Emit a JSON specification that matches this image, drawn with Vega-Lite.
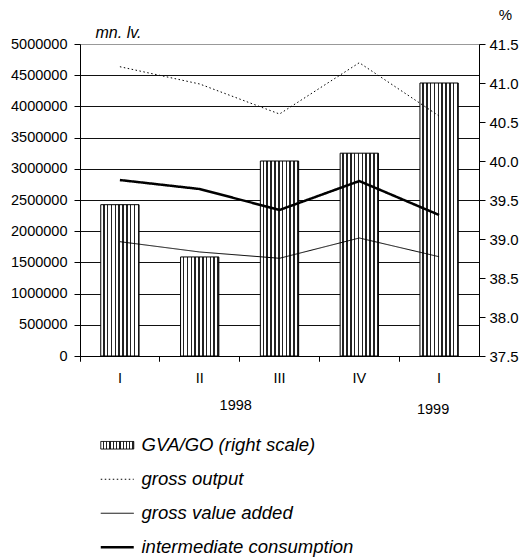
{
  "$schema": "https://vega.github.io/schema/vega-lite/v6.json",
  "width": 399,
  "height": 312,
  "autosize": {"type": "none"},
  "padding": {"left": 80, "top": 44, "right": 44, "bottom": 202},
  "config": {
    "font": "Liberation Sans",
    "view": {"stroke": "#999", "strokeWidth": 1},
    "axis": {"labelColor": "black", "tickColor": "black", "domainColor": "black", "titleColor": "black", "domainWidth": 1, "tickWidth": 1}
  },
  "datasets": {
    "quarters": [
      {"quarter": "I 1998", "gva_go": 39.44},
      {"quarter": "II 1998", "gva_go": 38.77},
      {"quarter": "III 1998", "gva_go": 40.0},
      {"quarter": "IV 1998", "gva_go": 40.1},
      {"quarter": "I 1999", "gva_go": 41.0}
    ],
    "lines": [
      {"quarter": "I 1998", "series": "gross output", "value": 4636000},
      {"quarter": "II 1998", "series": "gross output", "value": 4359000},
      {"quarter": "III 1998", "series": "gross output", "value": 3878000},
      {"quarter": "IV 1998", "series": "gross output", "value": 4700000},
      {"quarter": "I 1999", "series": "gross output", "value": 3846000},
      {"quarter": "I 1998", "series": "gross value added", "value": 1832000},
      {"quarter": "II 1998", "series": "gross value added", "value": 1667000},
      {"quarter": "III 1998", "series": "gross value added", "value": 1566000},
      {"quarter": "IV 1998", "series": "gross value added", "value": 1891000},
      {"quarter": "I 1999", "series": "gross value added", "value": 1591000},
      {"quarter": "I 1998", "series": "intermediate consumption", "value": 2820000},
      {"quarter": "II 1998", "series": "intermediate consumption", "value": 2676000},
      {"quarter": "III 1998", "series": "intermediate consumption", "value": 2340000},
      {"quarter": "IV 1998", "series": "intermediate consumption", "value": 2804000},
      {"quarter": "I 1999", "series": "intermediate consumption", "value": 2260000}
    ]
  },
  "layer": [
    {
      "data": {"name": "quarters"},
      "mark": {
        "type": "bar",
        "width": {"band": 0.48},
        "stroke": "black",
        "strokeWidth": 1,
        "fill": {
          "gradient": "linear", "x1": 0, "y1": 0, "x2": 1, "y2": 0,
          "stops": [
            {"offset": 0, "color": "white"}, {"offset": 0.06, "color": "white"}, {"offset": 0.06, "color": "#222"}, {"offset": 0.1, "color": "#222"},
            {"offset": 0.1, "color": "white"}, {"offset": 0.16, "color": "white"}, {"offset": 0.16, "color": "#222"}, {"offset": 0.2, "color": "#222"},
            {"offset": 0.2, "color": "white"}, {"offset": 0.26, "color": "white"}, {"offset": 0.26, "color": "#222"}, {"offset": 0.3, "color": "#222"},
            {"offset": 0.3, "color": "white"}, {"offset": 0.36, "color": "white"}, {"offset": 0.36, "color": "#222"}, {"offset": 0.4, "color": "#222"},
            {"offset": 0.4, "color": "white"}, {"offset": 0.46, "color": "white"}, {"offset": 0.46, "color": "#222"}, {"offset": 0.5, "color": "#222"},
            {"offset": 0.5, "color": "white"}, {"offset": 0.56, "color": "white"}, {"offset": 0.56, "color": "#222"}, {"offset": 0.6, "color": "#222"},
            {"offset": 0.6, "color": "white"}, {"offset": 0.66, "color": "white"}, {"offset": 0.66, "color": "#222"}, {"offset": 0.7, "color": "#222"},
            {"offset": 0.7, "color": "white"}, {"offset": 0.76, "color": "white"}, {"offset": 0.76, "color": "#222"}, {"offset": 0.8, "color": "#222"},
            {"offset": 0.8, "color": "white"}, {"offset": 0.86, "color": "white"}, {"offset": 0.86, "color": "#222"}, {"offset": 0.9, "color": "#222"},
            {"offset": 0.9, "color": "white"}, {"offset": 0.96, "color": "white"}, {"offset": 0.96, "color": "#222"}, {"offset": 1, "color": "#222"}
          ]
        }
      },
      "encoding": {
        "x": {
          "field": "quarter", "type": "nominal",
          "sort": ["I 1998", "II 1998", "III 1998", "IV 1998", "I 1999"],
          "scale": {"paddingInner": 0, "paddingOuter": 0},
          "axis": {
            "orient": "bottom",
            "title": null, "labelAngle": 0,
            "labelExpr": "datum.value == 'I 1998' || datum.value == 'I 1999' ? 'I' : datum.value == 'II 1998' ? 'II' : datum.value == 'III 1998' ? 'III' : datum.value == 'IV 1998' ? 'IV' : ''",
            "ticks": true, "domain": true,
            "bandPosition": 0,
            "tickSize": 5, "tickColor": "black", "tickWidth": 1, "tickOpacity": 1,
            "labelPadding": 10.5, "labelFontSize": 14.5, "grid": false
          }
        },
        "y": {
          "field": "gva_go", "type": "quantitative",
          "scale": {"domain": [37.5, 41.5], "zero": false, "nice": false},
          "axis": {
            "orient": "right", "grid": false,
            "values": [37.5, 38, 38.5, 39, 39.5, 40, 40.5, 41, 41.5],
            "format": ".1f", "tickSize": 6, "labelPadding": 4, "labelFontSize": 15,
            "title": "%", "titleAngle": 0, "titleX": 26, "titleY": -30,
            "titleAlign": "center", "titleBaseline": "middle",
            "titleFontWeight": "normal", "titleFontSize": 15
          }
        },
        "y2": {"datum": 37.5}
      }
    },
    {
      "data": {"name": "lines"},
      "mark": {"type": "line", "color": "black"},
      "encoding": {
        "x": {
          "field": "quarter", "type": "nominal",
          "sort": ["I 1998", "II 1998", "III 1998", "IV 1998", "I 1999"],
          "axis": {
            "orient": "bottom",
            "title": null, "labelAngle": 0, "domain": false, "grid": false,
            "ticks": true, "bandPosition": 0, "tickSize": 5, "tickColor": "black", "tickWidth": 1,
            "labelExpr": "datum.value == 'II 1998' ? '1998' : datum.value == 'I 1999' ? '1999' : ''",
            "labelOffset": {"condition": {"test": "datum.value == 'II 1998'", "value": 36}, "value": -6},
            "labelPadding": {"condition": {"test": "datum.value == 'II 1998'", "value": 37}, "value": 41},
            "labelFontSize": 14.5
          }
        },
        "y": {
          "field": "value", "type": "quantitative",
          "scale": {"domain": [0, 5000000], "nice": false},
          "axis": {
            "orient": "left", "grid": true,
            "gridColor": {"condition": {"test": "datum.value >= 5000000", "value": "#999"}, "value": "#111"},
            "values": [0, 500000, 1000000, 1500000, 2000000, 2500000, 3000000, 3500000, 4000000, 4500000, 5000000],
            "format": "d", "tickSize": 6, "labelPadding": 7, "labelFontSize": 14.5,
            "title": "mn. lv.", "titleAngle": 0, "titleX": 38, "titleY": -12,
            "titleAlign": "center", "titleBaseline": "middle",
            "titleFontStyle": "italic", "titleFontWeight": "normal", "titleFontSize": 16
          }
        },
        "strokeWidth": {
          "condition": {"test": "datum.series === 'intermediate consumption'", "value": 2.5},
          "value": 1
        },
        "strokeDash": {
          "field": "series", "type": "nominal",
          "scale": {
            "domain": ["GVA/GO (right scale)", "gross output", "gross value added", "intermediate consumption"],
            "range": [[1, 0], [1.5, 2.5], [1, 0], [1, 0]]
          },
          "legend": {
            "orient": "none", "legendX": 28, "legendY": 392,
            "title": null, "direction": "vertical",
            "symbolType": "stroke", "symbolSize": 1089,
            "symbolStrokeColor": "black", "symbolStrokeWidth": 1,
            "labelFontSize": 18.5, "labelFontStyle": "italic", "labelColor": "black",
            "labelOffset": 15, "labelLimit": 400, "rowPadding": 15, "padding": 0,
            "encode": {
              "symbols": {
                "update": {
                  "shape": {"signal": "datum.value === 'GVA/GO (right scale)' ? 'M-1,-0.23H1V0.23H-1Z' : 'stroke'"},
                  "stroke": {"value": "black"},
                  "opacity": {"value": 1},
                  "strokeOpacity": {"value": 1},
                  "strokeDash": {"signal": "datum.value === 'gross output' ? [1.5, 2.5] : [1, 0]"},
                  "strokeWidth": {"signal": "datum.value === 'intermediate consumption' ? 2.5 : 1"},
                  "fill": [
                    {
                      "test": "datum.value === 'GVA/GO (right scale)'",
                      "value": {
                        "gradient": "linear", "x1": 0, "y1": 0, "x2": 1, "y2": 0,
                        "stops": [
                          {"offset": 0, "color": "white"}, {"offset": 0.06, "color": "white"}, {"offset": 0.06, "color": "#222"}, {"offset": 0.1, "color": "#222"},
                          {"offset": 0.1, "color": "white"}, {"offset": 0.16, "color": "white"}, {"offset": 0.16, "color": "#222"}, {"offset": 0.2, "color": "#222"},
                          {"offset": 0.2, "color": "white"}, {"offset": 0.26, "color": "white"}, {"offset": 0.26, "color": "#222"}, {"offset": 0.3, "color": "#222"},
                          {"offset": 0.3, "color": "white"}, {"offset": 0.36, "color": "white"}, {"offset": 0.36, "color": "#222"}, {"offset": 0.4, "color": "#222"},
                          {"offset": 0.4, "color": "white"}, {"offset": 0.46, "color": "white"}, {"offset": 0.46, "color": "#222"}, {"offset": 0.5, "color": "#222"},
                          {"offset": 0.5, "color": "white"}, {"offset": 0.56, "color": "white"}, {"offset": 0.56, "color": "#222"}, {"offset": 0.6, "color": "#222"},
                          {"offset": 0.6, "color": "white"}, {"offset": 0.66, "color": "white"}, {"offset": 0.66, "color": "#222"}, {"offset": 0.7, "color": "#222"},
                          {"offset": 0.7, "color": "white"}, {"offset": 0.76, "color": "white"}, {"offset": 0.76, "color": "#222"}, {"offset": 0.8, "color": "#222"},
                          {"offset": 0.8, "color": "white"}, {"offset": 0.86, "color": "white"}, {"offset": 0.86, "color": "#222"}, {"offset": 0.9, "color": "#222"},
                          {"offset": 0.9, "color": "white"}, {"offset": 0.96, "color": "white"}, {"offset": 0.96, "color": "#222"}, {"offset": 1, "color": "#222"}
                        ]
                      }
                    },
                    {"value": "transparent"}
                  ]
                }
              }
            }
          }
        }
      }
    }
  ],
  "resolve": {"scale": {"y": "independent"}, "axis": {"x": "independent"}}
}
